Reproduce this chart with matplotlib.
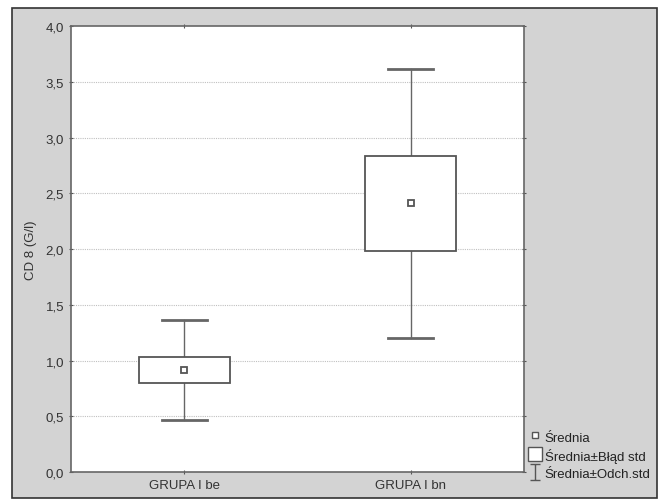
import matplotlib
matplotlib.use("Agg")
from matplotlib import pyplot as plt
from matplotlib.path import Path
from matplotlib.patches import Rectangle
from matplotlib.lines import Line2D
from matplotlib.ticker import MultipleLocator, FuncFormatter

groups = ["GRUPA I be", "GRUPA I bn"]
means = [0.915, 2.41]
se_low = [0.80, 1.98]
se_high = [1.03, 2.83]
sd_low = [0.47, 1.20]
sd_high = [1.36, 3.61]
legend_labels = ["Średnia", "Średnia±Błąd std", "Średnia±Odch.std"]

plt.rcParams["font.family"] = ["Liberation Sans", "DejaVu Sans"]
plt.rcParams["font.size"] = 9.5

fig = plt.figure(figsize=(6.63, 5.02), dpi=100)
fig.patch.set_facecolor("white")
fig.patches.append(Rectangle((12 / 663, 1 - 499 / 502), 645 / 663, 490 / 502,
                             transform=fig.transFigure, facecolor="#d3d3d3",
                             edgecolor="#333333", linewidth=1.2, zorder=-10))

ax = fig.add_axes([71 / 663, 1 - 473 / 502, 453 / 663, 446 / 502])
ax.set_facecolor("white")

box_w = 0.4
cap_w = 0.2
edge = "#555555"
for i in range(len(groups)):
    ax.plot([i, i], [sd_low[i], se_low[i]], color="#666666", lw=1.0, zorder=2)
    ax.plot([i, i], [se_high[i], sd_high[i]], color="#666666", lw=1.0, zorder=2)
    ax.plot([i - cap_w / 2, i + cap_w / 2], [sd_low[i]] * 2, color="#666666", lw=2.0, zorder=2)
    ax.plot([i - cap_w / 2, i + cap_w / 2], [sd_high[i]] * 2, color="#666666", lw=2.0, zorder=2)
    ax.add_patch(Rectangle((i - box_w / 2, se_low[i]), box_w, se_high[i] - se_low[i],
                           facecolor="white", edgecolor=edge, linewidth=1.3, zorder=3))
ax.plot(range(len(groups)), means, linestyle="none", marker="s", markersize=5,
        markerfacecolor="white", markeredgecolor=edge, markeredgewidth=1.3, zorder=4)

ax.set_xlim(-0.5, 1.5)
ax.set_ylim(0, 4)
ax.set_xticks(range(len(groups)))
ax.set_xticklabels(groups)
ax.yaxis.set_major_locator(MultipleLocator(0.5))
ax.yaxis.set_major_formatter(FuncFormatter(lambda v, p: f"{v:.1f}".replace(".", ",")))
ax.tick_params(axis="both", colors="#555555", labelcolor="#333333", length=3, width=0.8,
               top=True, right=True, direction="inout")
for y in [0.5, 1.0, 1.5, 2.0, 2.5, 3.0, 3.5]:
    ax.axhline(y, color="#c0c0c0", linestyle=(0, (1, 1)), linewidth=0.8, zorder=1)
for s in ax.spines.values():
    s.set_color("#666666")
    s.set_linewidth(1.2)
ax.set_ylabel("CD 8 (G/l)", color="#333333", labelpad=6)

whisker = Path([(0, -1), (0, 1), (-0.6, 1), (0.6, 1), (-0.6, -1), (0.6, -1)],
               [Path.MOVETO, Path.LINETO, Path.MOVETO, Path.LINETO, Path.MOVETO, Path.LINETO])
handles = [
    Line2D([], [], linestyle="none", marker="s", markersize=4, markerfacecolor="white",
           markeredgecolor=edge, markeredgewidth=1.0),
    Line2D([], [], linestyle="none", marker="s", markersize=10.5, markerfacecolor="white",
           markeredgecolor=edge, markeredgewidth=1.0),
    Line2D([], [], linestyle="none", marker=whisker, markersize=11.5, markerfacecolor="none",
           markeredgecolor=edge, markeredgewidth=1.0),
]
fig.legend(handles, legend_labels, loc="lower left", bbox_to_anchor=(529 / 663, 1 - 481 / 502),
           frameon=False, handlelength=0.9, handleheight=1.0, handletextpad=0.3,
           labelspacing=0.3, borderaxespad=0, borderpad=0, fontsize=9.5, labelcolor="#222222")

plt.savefig("out.png", dpi=100)
